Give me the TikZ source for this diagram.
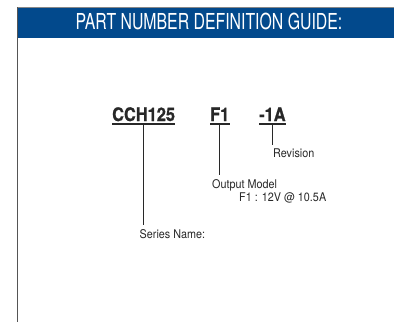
\documentclass[tikz,border=0pt]{standalone}
\usepackage{fontspec}
\setmainfont{TeX Gyre Heros}
\newfontfamily\titlefont{TeX Gyre Heros}[FakeStretch=0.72]
\newfontfamily\codefont{TeX Gyre Heros}[FakeStretch=0.88,BoldFeatures={FakeBold=1}]
\newfontfamily\labfont{TeX Gyre Heros}[FakeStretch=0.9]
\definecolor{barblue}{RGB}{2,73,140}
\definecolor{ink}{RGB}{40,40,40}
\definecolor{frame}{RGB}{85,85,85}
\begin{document}
\begin{tikzpicture}[x=1pt,y=-1pt,
  code/.style={inner sep=0pt,anchor=base west,text=ink,font=\codefont\bfseries\fontsize{18.6}{20}\selectfont},
  lab/.style={inner sep=0pt,anchor=base west,text=ink,font=\labfont\fontsize{12}{14}\selectfont},
  conn/.style={draw=ink,line width=1.1pt},
  uline/.style={draw=ink,line width=1.4pt}]
\useasboundingbox (0,0) rectangle (394,322);
\fill[white] (0,0) rectangle (394,322);
% title bar
\fill[barblue] (17,7) rectangle (394,37.5);
\draw[frame!70,line width=0.6pt] (17,7) -- (394,7);
\draw[frame,line width=1.5pt] (17.5,7) -- (17.5,322);
\node[inner sep=0pt,anchor=base,text=white,font=\titlefont\fontsize{22}{24}\selectfont] (title) at (209,29.5) {PART NUMBER DEFINITION GUIDE:};
% codes
\node[code] (cch) at (112,121) {CCH125};
\node[code] (f1) at (210,121) {F1};
\node[code] (rev) at (259,121) {-1A};
\draw[uline] ([yshift=-3pt]cch.base west) -- ([yshift=-3pt]cch.base east);
\draw[uline] ([yshift=-3pt]f1.base west) -- ([yshift=-3pt]f1.base east);
\draw[uline] ([yshift=-3pt]rev.base west) -- ([yshift=-3pt]rev.base east);
% labels
\node[lab] (revl) at (273,157) {Revision};
\node[lab] (outl) at (212,188) {Output Model};
\node[lab] (outd) at (239,201) {F1 : 12V @ 10.5A};
\node[lab] (ser) at (139.5,238) {Series Name:};
% connectors
\draw[conn] ([yshift=-3pt]cch.base) -- ([yshift=-3pt]cch.base |- 0,222);
\draw[conn] ([yshift=-3pt]f1.base) -- ([yshift=-3pt]f1.base |- 0,172);
\draw[conn] ([yshift=-3pt]rev.base) -- ([yshift=-3pt]rev.base |- 0,142);
\end{tikzpicture}
\end{document}
